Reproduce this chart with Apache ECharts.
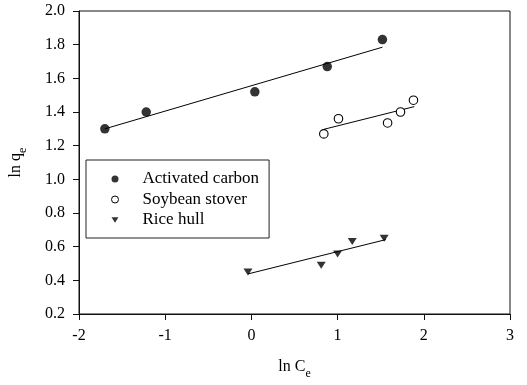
<!DOCTYPE html>
<html>
<head>
<meta charset="utf-8">
<script src="https://cdn.jsdelivr.net/npm/echarts@6/dist/echarts.min.js"></script>
<style>
html,body{margin:0;padding:0;background:#fff;}
#chart{width:527px;height:385px;}
</style>
</head>
<body>
<div id="chart"></div>
<script>
// Data
const carbonX = [-1.70, -1.22, 0.04, 0.88, 1.52];
const carbonY = [1.30, 1.40, 1.52, 1.67, 1.83];
const soyX = [0.84, 1.01, 1.58, 1.73, 1.88];
const soyY = [1.27, 1.36, 1.335, 1.40, 1.47];
const riceX = [-0.04, 0.81, 1.00, 1.17, 1.54];
const riceY = [0.45, 0.49, 0.557, 0.63, 0.65];
// Fitted regression line end points
const carbonFitX = [-1.70, 1.52];
const carbonFitY = [1.30, 1.785];
const soyFitX = [0.84, 1.89];
const soyFitY = [1.297, 1.432];
const riceFitX = [-0.04, 1.56];
const riceFitY = [0.438, 0.642];
const seriesNames = ['Activated carbon', 'Soybean stover', 'Rice hull'];

const pairs = (xs, ys) => xs.map((x, i) => [x, ys[i]]);
const FONT = "'Liberation Serif', 'Times New Roman', serif";
const tri = 'path://M0,0L10,0L5,8Z';

const chart = echarts.init(document.getElementById('chart'), null, {renderer: 'canvas'});
const fitLine = (xs, ys) => ({
  type: 'line', data: pairs(xs, ys), symbol: 'none', silent: true,
  lineStyle: {color: '#000', width: 1}, z: 1
});
chart.setOption({
  animation: false,
  backgroundColor: '#fff',
  grid: {left: 76.7, right: 17, top: 11, bottom: 66.7, show: true, borderColor: '#111', borderWidth: 1},
  xAxis: {
    type: 'value', min: -2, max: 3, interval: 1,
    name: '{a|ln C}{b|e}', nameLocation: 'middle', nameGap: 40,
    nameTextStyle: {
      rich: {
        a: {fontFamily: FONT, fontSize: 16, color: '#000'},
        b: {fontFamily: FONT, fontSize: 12, color: '#000', padding: [14, 0, 0, 0]}
      }
    },
    axisLine: {onZero: false, lineStyle: {color: '#111', width: 1}},
    axisTick: {show: true, length: 6, lineStyle: {color: '#111'}},
    axisLabel: {fontFamily: FONT, fontSize: 16, color: '#000', margin: 14},
    splitLine: {show: false}
  },
  yAxis: {
    type: 'value', min: 0.2, max: 2.0, interval: 0.2,
    name: '{a|ln q}{b|e}', nameLocation: 'middle', nameGap: 50, nameRotate: 90,
    nameTextStyle: {
      rich: {
        a: {fontFamily: FONT, fontSize: 16, color: '#000'},
        b: {fontFamily: FONT, fontSize: 12, color: '#000', padding: [14, 0, 0, 0]}
      }
    },
    axisLine: {show: true, onZero: false, lineStyle: {color: '#111', width: 1}},
    axisTick: {show: true, length: 6, lineStyle: {color: '#111'}},
    axisLabel: {fontFamily: FONT, fontSize: 16, color: '#000', margin: 14, formatter: v => v.toFixed(1)},
    splitLine: {show: false}
  },
  legend: {
    data: [
      {name: seriesNames[0], itemStyle: {color: '#000', borderWidth: 0}},
      {name: seriesNames[1], itemStyle: {color: '#fff', borderColor: '#000', borderWidth: 1}},
      {name: seriesNames[2], itemStyle: {color: '#000', borderWidth: 0}}
    ],
    orient: 'vertical', left: 86, top: 160,
    padding: [9, 10, 8, 25],
    itemWidth: 7, itemHeight: 7, itemGap: 0.5,
    borderColor: '#222', borderWidth: 1, backgroundColor: '#fff',
    textStyle: {fontFamily: FONT, fontSize: 17, color: '#000', lineHeight: 20, padding: [0, 0, 0, 19]}
  },
  series: [
    fitLine(carbonFitX, carbonFitY),
    fitLine(soyFitX, soyFitY),
    fitLine(riceFitX, riceFitY),
    {name: seriesNames[0], type: 'scatter', data: pairs(carbonX, carbonY), symbol: 'circle', symbolSize: 9.5,
     itemStyle: {color: '#000'}, z: 3},
    {name: seriesNames[1], type: 'scatter', data: pairs(soyX, soyY), symbol: 'circle', symbolSize: 8.5,
     itemStyle: {color: '#fff', borderColor: '#000', borderWidth: 1.1, opacity: 1}, z: 3},
    {name: seriesNames[2], type: 'scatter', data: pairs(riceX, riceY), symbol: tri, symbolSize: [9, 7],
     itemStyle: {color: '#000'}, z: 3}
  ]
});
</script>
</body>
</html>
